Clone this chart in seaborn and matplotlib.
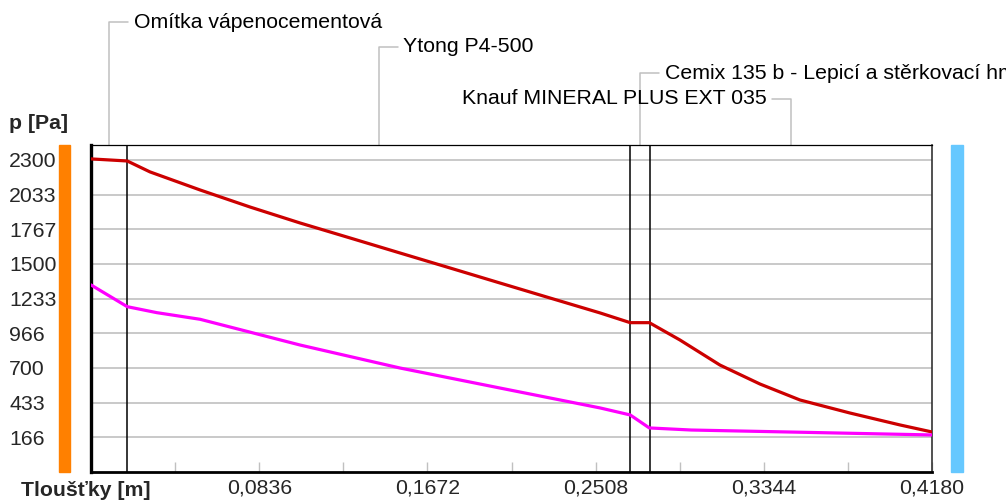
import matplotlib

matplotlib.use("Agg")
import matplotlib.pyplot as plt
import pandas as pd
import seaborn as sns
from matplotlib.patches import Rectangle

sns.set_theme(style="white")
plt.rcParams["font.family"] = ["Liberation Sans", "DejaVu Sans"]

# layers of the wall, inside -> outside
layer_names = [
    "Omítka vápenocementová",
    "Ytong P4-500",
    "Cemix 135 b - Lepicí a stěrkovací hmota",
    "Knauf MINERAL PLUS EXT 035",
]
layer_thickness = [0.018, 0.250, 0.010, 0.140]

# saturated vapour pressure (red)
x_sat = [0.0, 0.018, 0.0293, 0.0542, 0.079, 0.1039, 0.1287, 0.1536, 0.1784,
         0.2033, 0.2281, 0.253, 0.268, 0.2775, 0.2927, 0.3126, 0.3325, 0.3524,
         0.3772, 0.4021, 0.418]
p_sat = [2308, 2292, 2208, 2069, 1938, 1815, 1700, 1584, 1469,
         1353, 1238, 1123, 1048, 1048, 915, 722, 576, 453,
         353, 261, 207]

# partial vapour pressure (magenta)
x_vap = [0.0, 0.018, 0.0327, 0.0542, 0.1039, 0.1536, 0.2033, 0.253, 0.268,
         0.2775, 0.2983, 0.3524, 0.418]
p_vap = [1338, 1171, 1125, 1074, 876, 699, 545, 392, 338,
         238, 222, 205, 184]

y_ticks = [2300, 2033, 1767, 1500, 1233, 966, 700, 433, 166]
x_ticks = [0.0836, 0.1672, 0.2508, 0.3344, 0.4180]
x_tick_labels = ["0,0836", "0,1672", "0,2508", "0,3344", "0,4180"]
x_minor = [0.0418, 0.1254, 0.2090, 0.2926, 0.3762]

FS = 15.3

fig = plt.figure(figsize=(10.06, 5.04), dpi=100)
ax = fig.add_axes([0.0905, 0.0635, 0.8359, 0.6488])

sat = pd.DataFrame({"x": x_sat, "p": p_sat})
vap = pd.DataFrame({"x": x_vap, "p": p_vap})
sns.lineplot(data=sat, x="x", y="p", ax=ax, color="#cc0000", lw=2.3,
             estimator=None, sort=False, zorder=5)
sns.lineplot(data=vap, x="x", y="p", ax=ax, color="#ff00ff", lw=2.3,
             estimator=None, sort=False, zorder=5)

ax.set_xlim(0, 0.418)
ax.set_ylim(-101, 2415)
ax.set_xlabel("")
ax.set_ylabel("")

# horizontal grid
for v in y_ticks:
    ax.axhline(v, color="#c9c9c9", lw=1.4, zorder=1)

# layer boundaries
bounds = [sum(layer_thickness[:i + 1]) for i in range(len(layer_thickness) - 1)]
for b in bounds:
    ax.axvline(b, color="black", lw=1.1, zorder=3)

ax.set_yticks(y_ticks)
ax.set_yticklabels([str(v) for v in y_ticks], fontsize=FS)
for t in ax.get_yticklabels():
    t.set_ha("left")
ax.tick_params(axis="y", length=0, pad=59)

ax.set_xticks(x_ticks)
ax.set_xticklabels(x_tick_labels, fontsize=FS)
ax.set_xticks(x_minor, minor=True)
ax.tick_params(axis="x", which="both", direction="in", length=7, width=1,
               color="#c0c0c0", pad=5, bottom=True)

for side, lw, col in (("left", 2.4, "black"), ("bottom", 2.0, "black"),
                      ("top", 0.9, "black"), ("right", 1.2, "#333333")):
    ax.spines[side].set_linewidth(lw)
    ax.spines[side].set_color(col)
    ax.spines[side].set_visible(True)

# layer name call-outs above the plot
levels = [1.376, 1.300, 1.220, 1.141]
to_left = [False, False, False, True]
trans = ax.get_xaxis_transform()
start = 0.0
for name, th, lev, left in zip(layer_names, layer_thickness, levels, to_left):
    mid = start + th / 2
    start += th
    end = mid - 0.0094 if left else mid + 0.0094
    ax.plot([mid, mid, end], [1.0, lev, lev], color="#c0c0c0", lw=1.1,
            transform=trans, clip_on=False)
    tx = end - 0.0028 if left else end + 0.0028
    ax.text(tx, lev, name, transform=trans, fontsize=FS, va="center",
            ha="right" if left else "left", color="black")

# interior / exterior bars
fig.patches.append(Rectangle((0.0586, 0.0635), 0.0109, 0.6488,
                             transform=fig.transFigure, color="#ff8000"))
fig.patches.append(Rectangle((0.9453, 0.0635), 0.0119, 0.6488,
                             transform=fig.transFigure, color="#66c8ff"))

fig.text(9 / 1006, 0.754, "p [Pa]", fontsize=FS, fontweight="bold", va="center")
fig.text(21 / 1006, 13 / 504, "Tloušťky [m]", fontsize=FS, fontweight="bold",
         va="center")

fig.savefig("out.png", dpi=100)
